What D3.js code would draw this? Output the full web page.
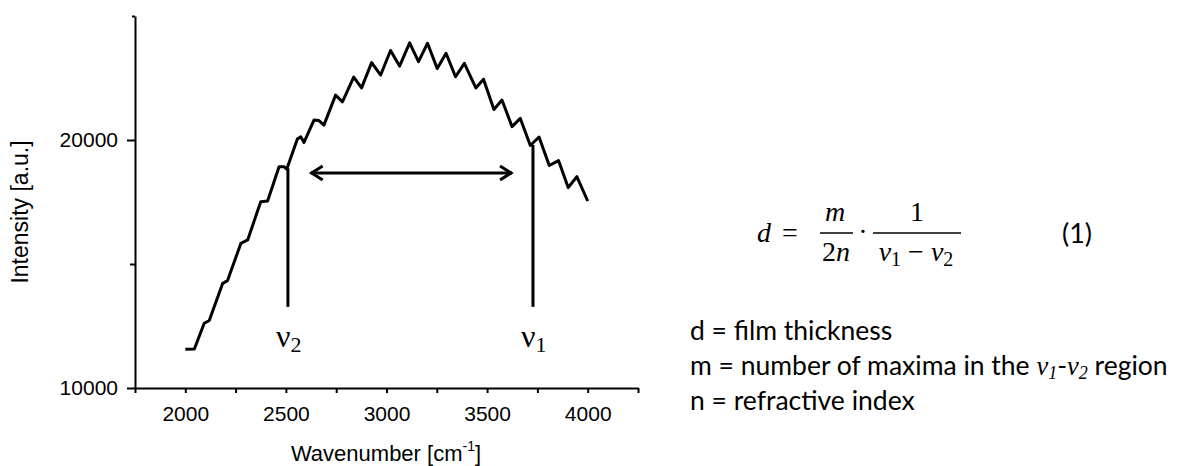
<!DOCTYPE html>
<html>
<head>
<meta charset="utf-8">
<script src="https://cdn.jsdelivr.net/npm/d3@7"></script>
<style>
  body { margin: 0; background: #fff; }
  svg { display: block; }
</style>
</head>
<body>
<div id="chart"></div>
<script>
// Spectrum (peaks and valleys of the fringes)
const wavenumber = [2000, 2045, 2094, 2119, 2186, 2210, 2276, 2310, 2375, 2409,
  2466, 2491, 2504, 2557, 2574, 2590, 2640, 2663, 2689, 2747,
  2781, 2837, 2876, 2926, 2971, 3020, 3065, 3115, 3159, 3204,
  3252, 3296, 3343, 3387, 3444, 3482, 3534, 3574, 3624, 3665,
  3715, 3758, 3809, 3855, 3903, 3946, 4000];
const intensity = [11560, 11570, 12610, 12720, 14220, 14330, 15830, 15970, 17510, 17540,
  18920, 18920, 18820, 20040, 20130, 19900, 20810, 20790, 20600, 21810,
  21540, 22540, 22100, 23120, 22620, 23610, 22980, 23920, 23160, 23900,
  22880, 23500, 22550, 23090, 22100, 22450, 21230, 21610, 20540, 20870,
  19780, 20120, 18970, 19170, 18080, 18520, 17540];

const xTicks = [1750, 2000, 2250, 2500, 2750, 3000, 3250, 3500, 3750, 4000, 4250];
const xLabels = [2000, 2500, 3000, 3500, 4000];
const yTicks = [10000, 15000, 20000, 25000];
const yLabels = [10000, 20000];

// marker lines and the arrow between them
const nu2 = 2510, nu1 = 3728;
const nu2Top = 18860, nu1Top = 19800, nuBottom = 13270;
const arrowFrom = 2623, arrowTo = 3624, arrowY = 18670;

const svg = d3.select("#chart")
  .append("svg")
  .attr("width", 1183)
  .attr("height", 466);

const x = d3.scaleLinear().domain([1750, 4250]).range([135, 638]);
const y = d3.scaleLinear().domain([10000, 25000]).range([388, 16]);

const axisFont = "'Liberation Sans', Arial, sans-serif";

// x axis
const gx = svg.append("g")
  .attr("transform", "translate(0,388)")
  .call(d3.axisBottom(x).tickValues(xTicks).tickSize(5).tickSizeOuter(0)
    .tickFormat(d => xLabels.includes(d) ? d : ""));
gx.selectAll("text")
  .attr("font-family", axisFont).attr("font-size", 21).attr("fill", "#000")
  .attr("dy", "1.2em");

// y axis
const gy = svg.append("g")
  .attr("transform", "translate(135,0)")
  .call(d3.axisLeft(y).tickValues(yTicks).tickSizeOuter(0)
    .tickSize(d => 0)
    .tickFormat(d => yLabels.includes(d) ? d : ""));
gy.selectAll(".tick line")
  .attr("x2", d => yLabels.includes(d) ? -8 : (d === 25000 ? -3 : -5));
gy.selectAll("text")
  .attr("font-family", axisFont).attr("font-size", 21).attr("fill", "#000")
  .attr("x", -17);

svg.selectAll(".domain, .tick line").attr("stroke", "#000").attr("stroke-width", 2);

// axis titles
svg.append("text")
  .attr("x", 386).attr("y", 461)
  .attr("text-anchor", "middle")
  .attr("font-family", axisFont).attr("font-size", 22)
  .call(t => {
    t.append("tspan").text("Wavenumber [cm");
    t.append("tspan").attr("font-size", 14).attr("dy", -10).text("-1");
    t.append("tspan").attr("dy", 10).text("]");
  });

svg.append("text")
  .attr("transform", "translate(28,212) rotate(-90)")
  .attr("text-anchor", "middle")
  .attr("font-family", axisFont).attr("font-size", 23)
  .text("Intensity [a.u.]");

// spectrum
const points = wavenumber.map((w, i) => [w, intensity[i]]);
svg.append("path")
  .datum(points)
  .attr("fill", "none")
  .attr("stroke", "#000")
  .attr("stroke-width", 3)
  .attr("stroke-linejoin", "round")
  .attr("d", d3.line().x(d => x(d[0])).y(d => y(d[1])));

// nu markers
svg.append("line")
  .attr("x1", x(nu2)).attr("x2", x(nu2))
  .attr("y1", y(nu2Top)).attr("y2", y(nuBottom))
  .attr("stroke", "#000").attr("stroke-width", 3);
svg.append("line")
  .attr("x1", x(nu1)).attr("x2", x(nu1))
  .attr("y1", y(nu1Top)).attr("y2", y(nuBottom))
  .attr("stroke", "#000").attr("stroke-width", 3);

const serif = "'Liberation Serif', 'Times New Roman', serif";
function nuLabel(xv, sub) {
  const t = svg.append("text")
    .attr("x", x(xv) - 12).attr("y", 347)
    .attr("font-family", serif).attr("font-size", 32);
  t.append("tspan").text("ν");
  t.append("tspan").attr("font-size", 22).attr("dy", 5).text(sub);
}
nuLabel(nu2, "2");
nuLabel(nu1, "1");

// double arrow
const ay = y(arrowY), ax1 = x(arrowFrom), ax2 = x(arrowTo);
svg.append("line")
  .attr("x1", ax1).attr("x2", ax2).attr("y1", ay).attr("y2", ay)
  .attr("stroke", "#000").attr("stroke-width", 3);
svg.append("path")
  .attr("d", `M${ax1 + 12},${ay - 7}L${ax1 + 1},${ay}L${ax1 + 12},${ay + 7}`
    + `M${ax2 - 12},${ay - 7}L${ax2 - 1},${ay}L${ax2 - 12},${ay + 7}`)
  .attr("fill", "none").attr("stroke", "#000").attr("stroke-width", 3)
  .attr("stroke-linejoin", "miter");

// formula
const f = svg.append("g")
  .attr("font-family", serif).attr("font-size", 28).attr("font-style", "italic");
f.append("text").attr("x", 757).attr("y", 242).text("d");
f.append("text").attr("x", 782).attr("y", 242).attr("font-style", "normal").text("=");
f.append("text").attr("x", 835).attr("y", 221).attr("text-anchor", "middle").text("m");
f.append("text").attr("x", 836).attr("y", 261).attr("text-anchor", "middle")
  .call(t => { t.append("tspan").attr("font-style", "normal").text("2"); t.append("tspan").text("n"); });
f.append("line").attr("x1", 820).attr("x2", 853).attr("y1", 233).attr("y2", 233)
  .attr("stroke", "#000").attr("stroke-width", 1.5);
f.append("text").attr("x", 863).attr("y", 241).attr("text-anchor", "middle")
  .attr("font-style", "normal").text("·");
f.append("text").attr("x", 917).attr("y", 221).attr("text-anchor", "middle")
  .attr("font-style", "normal").text("1");
f.append("line").attr("x1", 873).attr("x2", 961).attr("y1", 233).attr("y2", 233)
  .attr("stroke", "#000").attr("stroke-width", 1.5);
f.append("text").attr("x", 916).attr("y", 261).attr("text-anchor", "middle")
  .call(t => {
    t.append("tspan").text("ν");
    t.append("tspan").attr("font-style", "normal").attr("font-size", 20).attr("dy", 5).text("1");
    t.append("tspan").attr("font-style", "normal").attr("dy", -5).text(" − ");
    t.append("tspan").text("ν");
    t.append("tspan").attr("font-style", "normal").attr("font-size", 20).attr("dy", 5).text("2");
  });

const sans = "Lato, 'Open Sans', sans-serif";
svg.append("text").attr("x", 1062).attr("y", 243)
  .attr("font-family", sans).attr("font-size", 27).text("(1)");

// definitions
const defs = svg.append("g").attr("font-family", sans).attr("font-size", 26.5).attr("fill", "#000");
defs.append("text").attr("x", 690).attr("y", 340).text("d = film thickness");
defs.append("text").attr("x", 690).attr("y", 375)
  .call(t => {
    t.append("tspan").text("m = number of maxima in the  ");
    t.append("tspan").attr("font-family", serif).attr("font-style", "italic").text("ν");
    t.append("tspan").attr("font-family", serif).attr("font-style", "italic").attr("font-size", 18).attr("dy", 4).text("1");
    t.append("tspan").attr("dy", -4).text("-");
    t.append("tspan").attr("font-family", serif).attr("font-style", "italic").text("ν");
    t.append("tspan").attr("font-family", serif).attr("font-style", "italic").attr("font-size", 18).attr("dy", 4).text("2");
    t.append("tspan").attr("dy", -4).text(" region");
  });
defs.append("text").attr("x", 690).attr("y", 410).text("n = refractive index");
</script>
</body>
</html>
